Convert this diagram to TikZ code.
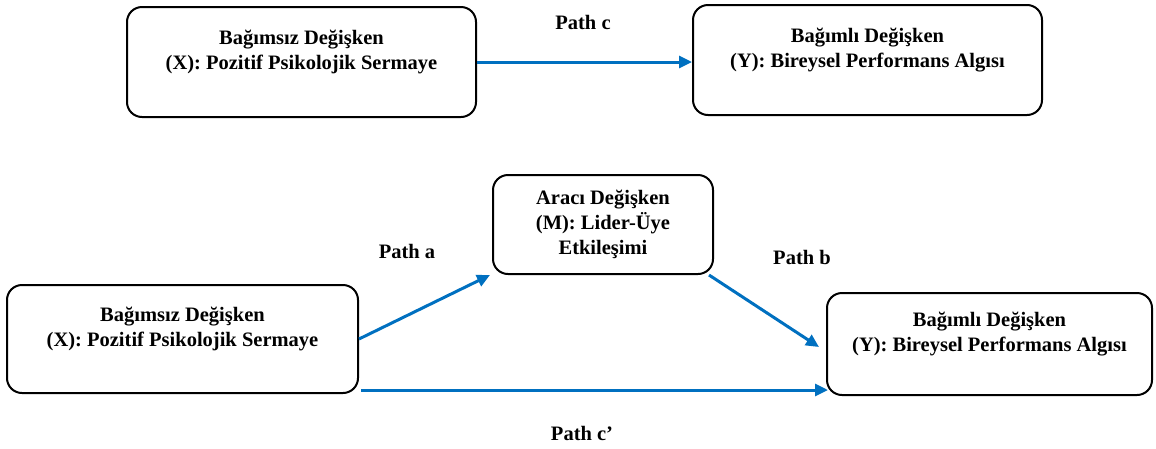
\documentclass[tikz,border=0pt]{standalone}
\usepackage{fontspec}
\setmainfont{Liberation Serif}
\usetikzlibrary{positioning, arrows.meta}

\definecolor{pathblue}{RGB}{0,112,192}

\tikzset{
    varbox/.style={draw=black, line width=2pt, rounded corners=15pt, align=center,
                   font=\bfseries\fontsize{20.5}{25}\selectfont},
    pathlabel/.style={font=\bfseries\fontsize{20.5}{25}\selectfont},
    patharrow/.style={draw=pathblue, line width=3pt, -{Triangle[length=13pt,width=12pt]}}
}

\begin{document}
\begin{tikzpicture}[x=1pt, y=-1pt]
    \useasboundingbox (0,0) rectangle (1156,448);

    % total effect
    \node[varbox, minimum width=349pt, minimum height=110pt] (tx) at (301.5,62)
        {Bağımsız Değişken\\(X): Pozitif Psikolojik Sermaye\\~};
    \node[varbox, minimum width=349pt, minimum height=110pt] (ty) at (867.5,60)
        {Bağımlı Değişken\\(Y): Bireysel Performans Algısı\\~};
    \node[pathlabel] (pc) at (583,22) {Path c};
    \draw[patharrow] (tx.east) -- (tx.east -| ty.west);

    % mediation model
    \node[varbox, minimum width=220pt, minimum height=99pt] (med) at (603,224.5)
        {Aracı Değişken\\(M): Lider-Üye\\Etkileşimi};
    \node[varbox, minimum width=351pt, minimum height=108pt] (xb) at (182.5,339)
        {Bağımsız Değişken\\(X): Pozitif Psikolojik Sermaye\\~};
    \node[varbox, minimum width=325pt, minimum height=102pt] (yb) at (989.5,344)
        {Bağımlı Değişken\\(Y): Bireysel Performans Algısı\\~};

    \node[pathlabel] (pa) at (407,251) {Path a};
    \node[pathlabel] (pb) at (802,257) {Path b};
    \node[pathlabel] (pcc) at (582,433) {Path c’};

    \draw[patharrow] (xb.east) -- ([xshift=-2pt]med.south west);
    \draw[patharrow] ([xshift=-5pt]med.south east) -- ([xshift=-7pt,yshift=-3pt]yb.west);
    \draw[patharrow] ([xshift=2pt,yshift=4pt]xb.south east) -- ([xshift=2pt,yshift=4pt]xb.south east -| yb.west);
\end{tikzpicture}
\end{document}
